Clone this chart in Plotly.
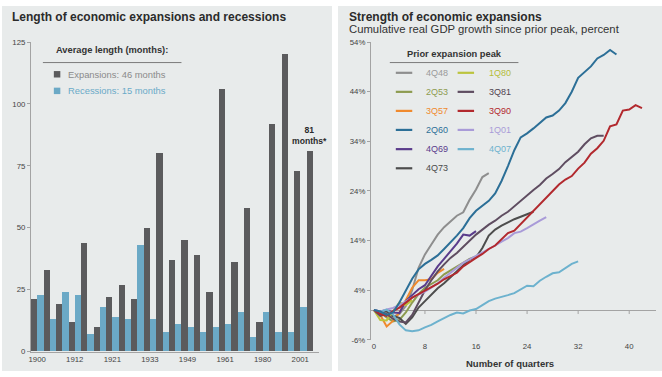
import plotly.graph_objects as go

# ---------------- Left panel: expansion / recession lengths (months) ----------------
cycle_years = ["1900", "1904", "1908", "1912", "1914", "1919", "1921", "1924", "1927",
               "1933", "1938", "1945", "1949", "1954", "1958", "1961", "1970", "1975",
               "1980", "1982", "1991", "2001", "2009"]
expansion_months = [21, 33, 19, 12, 44, 10, 22, 27, 21, 50, 80, 37, 45, 39, 24, 106,
                    36, 58, 12, 92, 120, 73, 81]
recession_months = [23, 13, 24, 23, 7, 18, 14, 13, 43, 13, 8, 11, 10, 8, 10, 11,
                    16, 6, 16, 8, 8, 18, None]
bar_ticks = ["1900", "1912", "1921", "1933", "1949", "1961", "1980", "2001"]
left_ticks = [0, 25, 50, 75, 100, 125]

# ---------------- Right panel: cumulative real GDP growth since prior peak ----------------
peak_names = ["4Q48", "2Q53", "3Q57", "2Q60", "4Q69", "4Q73",
              "1Q80", "3Q81", "3Q90", "1Q01", "4Q07"]
peak_colors = ["#8e8e8e", "#8d9b50", "#f08a2e", "#2c6f97", "#5a3c8b", "#4d4d4d",
               "#bcc43e", "#5f4d61", "#b2292e", "#a99bd8", "#6db2ce"]
label_colors = ["#9a9a9a", "#8d9b50", "#f08a2e", "#2c6f97", "#5a3c8b", "#4a4a4a",
                "#b5bd3a", "#4f4250", "#b2292e", "#a99bd8", "#6db2ce"]

g_4q48 = [0, -0.4, -0.9, -1.4, -0.8, 0.8, 4.0, 8.5, 11.2, 13.2, 15.2, 16.7, 17.8,
          19.0, 19.7, 22.2, 24.3, 26.8, 27.6]
g_2q53 = [0, -0.5, -1.5, -2.3, -2.0, -0.5, 1.5, 3.2, 4.5, 5.2, 6.0, 7.2, 8.0, 8.8,
          9.5, 10.3, 10.8]
g_3q57 = [0, -1.0, -3.3, -2.2, -0.5, 2.0, 4.5, 6.0, 6.0, 6.2, 7.5, 8.3]
g_2q60 = [0, -0.3, -1.0, -0.5, 1.5, 3.8, 6.3, 8.2, 9.3, 10.1, 11.0, 12.3, 13.6, 15.0,
          16.5, 18.5, 20.0, 21.0, 22.0, 23.5, 26.0, 29.0, 32.2, 34.8, 35.6, 36.6,
          37.7, 38.8, 39.2, 40.2, 41.7, 44.0, 46.8, 48.0, 49.1, 50.7, 51.4, 52.4, 51.5]
g_4q69 = [0, -0.3, 0, -0.5, -0.6, 1.8, 3.0, 4.2, 5.0, 7.0, 8.8, 10.3, 11.8, 13.4,
          15.2, 15.0, 15.9]
g_4q73 = [0, -0.5, -0.3, -1.2, -1.6, -2.8, -1.5, 0.5, 1.8, 3.2, 4.4, 5.4, 6.6, 7.8,
          9.0, 10.2, 10.6, 12.5, 15.0, 16.2, 17.0, 17.7, 18.3, 18.8, 19.3, 19.8]
g_1q80 = [0, -2.0, -2.1, -0.3, 1.5, 1.0, 2.0]
g_3q81 = [0, -1.2, -0.8, -1.8, -2.3, -2.5, -1.0, 1.5, 4.0, 6.0, 7.8, 9.2, 10.5, 11.5,
          12.8, 14.0, 15.2, 16.2, 17.2, 18.0, 19.0, 19.8, 20.9, 22.0, 23.2, 24.2,
          25.2, 26.5, 27.4, 28.4, 29.8, 30.8, 31.9, 33.4, 34.6, 35.1, 35.1]
g_3q90 = [0, -0.8, -1.2, -0.2, 0.5, 1.5, 2.5, 3.2, 3.9, 4.6, 5.3, 6.2, 6.8, 7.5, 8.8,
          9.7, 10.5, 11.3, 12.3, 13.0, 14.3, 15.5, 16.0, 17.3, 18.8, 20.0, 21.2,
          22.7, 24.0, 25.3, 26.3, 27.0, 28.5, 29.7, 31.5, 32.6, 34.1, 37.0, 37.4,
          40.2, 40.4, 41.3, 40.7]
g_1q01 = [0, -0.3, 0.1, 0.4, 1.0, 1.8, 2.5, 3.1, 3.7, 4.5, 5.4, 6.5, 7.6, 8.5, 9.5,
          10.2, 10.9, 11.5, 12.2, 13.0, 13.8, 14.5, 15.5, 15.8, 16.5, 17.3, 18.0, 18.7]
g_4q07 = [0, -0.4, 0.1, -0.9, -2.9, -4.1, -4.3, -4.1, -3.5, -3.0, -2.3, -1.6, -1.0,
          -0.5, -0.7, -0.1, 0.2, 1.0, 1.8, 2.3, 2.6, 3.0, 3.4, 4.2, 4.9, 4.8, 5.9,
          6.7, 7.4, 7.6, 8.5, 9.3, 9.8]
growth_series = [g_4q48, g_2q53, g_3q57, g_2q60, g_4q69, g_4q73,
                 g_1q80, g_3q81, g_3q90, g_1q01, g_4q07]
quarter_ticks = [0, 8, 16, 24, 32, 40]
pct_ticks = [-6, 4, 14, 24, 34, 44, 54]

# ---------------- styling ----------------
W, H = 662, 377
FONT = "Liberation Sans, Arial, sans-serif"
PANEL = "#e8ebeb"
AXIS = "#a3a3a3"
EXP_COLOR = "#5b5b5d"
REC_COLOR = "#6ba9c6"


def px(x):
    return x / W


def py(y):
    return 1 - y / H


fig = go.Figure()

fig.add_trace(go.Bar(x=cycle_years, y=expansion_months, name="Expansions",
                     marker=dict(color=EXP_COLOR, line=dict(width=0)),
                     xaxis="x", yaxis="y", showlegend=False))
fig.add_trace(go.Bar(x=cycle_years, y=recession_months, name="Recessions",
                     marker=dict(color=REC_COLOR, line=dict(width=0)),
                     xaxis="x", yaxis="y", showlegend=False))

# draw order: later cycles on top of earlier ones, except the long 2Q60 line
draw_order = [0, 1, 2, 4, 5, 6, 7, 9, 10, 8, 3]
for i in draw_order:
    fig.add_trace(go.Scatter(x=list(range(len(growth_series[i]))), y=growth_series[i],
                             mode="lines", name=peak_names[i],
                             line=dict(color=peak_colors[i], width=2),
                             xaxis="x2", yaxis="y2", showlegend=False))

shapes = []
annotations = []

# panel backgrounds
shapes.append(dict(type="rect", xref="paper", yref="paper", layer="below",
                   x0=px(0), x1=px(331), y0=py(376), y1=py(2),
                   fillcolor=PANEL, line=dict(width=0)))
shapes.append(dict(type="rect", xref="paper", yref="paper", layer="below",
                   x0=px(337), x1=px(662), y0=py(376), y1=py(2),
                   fillcolor=PANEL, line=dict(width=0)))

# titles
annotations.append(dict(text="<b>Length of economic expansions and recessions</b>",
                        x=px(8), y=py(13), xref="paper", yref="paper",
                        xanchor="left", yanchor="middle", showarrow=False,
                        font=dict(family=FONT, size=12, color="#2b2b2b")))
annotations.append(dict(text="<b>Strength of economic expansions</b>",
                        x=px(346), y=py(13), xref="paper", yref="paper",
                        xanchor="left", yanchor="middle", showarrow=False,
                        font=dict(family=FONT, size=12, color="#2b2b2b")))
annotations.append(dict(text="Cumulative real GDP growth since prior peak, percent",
                        x=px(346), y=py(25.5), xref="paper", yref="paper",
                        xanchor="left", yanchor="middle", showarrow=False,
                        font=dict(family=FONT, size=11.3, color="#333333")))

# left legend box
annotations.append(dict(text="<b>Average length (months):</b>",
                        x=px(52), y=py(47.5), xref="paper", yref="paper",
                        xanchor="left", yanchor="middle", showarrow=False,
                        font=dict(family=FONT, size=9.3, color="#333333")))
shapes.append(dict(type="line", xref="paper", yref="paper",
                   x0=px(41), x1=px(180), y0=py(60), y1=py(60),
                   line=dict(color="#7a7a7a", width=1)))
for label, col, txtcol, yy in [("Expansions: 46 months", EXP_COLOR, "#8a8a8a", 72),
                               ("Recessions: 15 months", REC_COLOR, "#6aaac8", 89)]:
    shapes.append(dict(type="rect", xref="paper", yref="paper",
                       x0=px(52), x1=px(58.5), y0=py(yy + 3.3), y1=py(yy - 3.3),
                       fillcolor=col, line=dict(width=0)))
    annotations.append(dict(text=label, x=px(64.5), y=py(yy), xref="paper", yref="paper",
                            xanchor="left", yanchor="middle", showarrow=False,
                            font=dict(family=FONT, size=9.4, color=txtcol)))

# label on the current expansion bar
last_idx = len(expansion_months) - 1
last_val = expansion_months[last_idx]
annotations.append(dict(text="<b>%d<br>months*</b>" % last_val,
                        x=last_idx - 0.25, y=last_val, xref="x", yref="y",
                        xanchor="center", yanchor="bottom", yshift=3,
                        showarrow=False, align="center",
                        font=dict(family=FONT, size=8.6, color="#2b2b2b")))

# right legend
annotations.append(dict(text="<b>Prior expansion peak</b>",
                        x=px(453.5), y=py(51), xref="paper", yref="paper",
                        xanchor="center", yanchor="middle", showarrow=False,
                        font=dict(family=FONT, size=9.3, color="#333333")))
shapes.append(dict(type="line", xref="paper", yref="paper",
                   x0=px(389), x1=px(518), y0=py(60), y1=py(60),
                   line=dict(color="#7a7a7a", width=1)))
row_y = [70.5, 90, 109.5, 129, 148.7, 168.3]
for i, name in enumerate(peak_names):
    col_i, row_i = (0, i) if i < 6 else (1, i - 6)
    lx0 = 395 if col_i == 0 else 457
    tx = 423 if col_i == 0 else 486.5
    yy = row_y[row_i]
    shapes.append(dict(type="line", xref="paper", yref="paper",
                       x0=px(lx0), x1=px(lx0 + 16.5), y0=py(yy), y1=py(yy),
                       line=dict(color=peak_colors[i], width=2.2)))
    annotations.append(dict(text=name, x=px(tx), y=py(yy), xref="paper", yref="paper",
                            xanchor="left", yanchor="middle", showarrow=False,
                            font=dict(family=FONT, size=9, color=label_colors[i])))

# small tick marks hanging from the zero line
for t in quarter_ticks[1:]:
    shapes.append(dict(type="line", xref="x2", yref="y2", x0=t, x1=t,
                       ysizemode="pixel", yanchor=0, y0=0, y1=-4,
                       line=dict(color=AXIS, width=1)))

annotations.append(dict(text="<b>Number of quarters</b>",
                        x=px(510), y=py(368), xref="paper", yref="paper",
                        xanchor="center", yanchor="middle", showarrow=False,
                        font=dict(family=FONT, size=9.5, color="#333333")))

tickfont = dict(family=FONT, size=7.8, color="#444444")

fig.update_layout(
    width=W, height=H,
    margin=dict(l=0, r=0, t=0, b=0),
    paper_bgcolor="white",
    plot_bgcolor="rgba(0,0,0,0)",
    barmode="group", bargap=0, bargroupgap=0,
    showlegend=False,
    font=dict(family=FONT),
    xaxis=dict(domain=[px(29), px(318)], anchor="y", type="category",
               range=[-0.5, len(cycle_years) - 0.5],
               tickmode="array", tickvals=bar_ticks, ticktext=bar_ticks,
               showline=True, linecolor=AXIS, linewidth=1, ticks="",
               showgrid=False, zeroline=False, tickfont=tickfont),
    yaxis=dict(domain=[py(356), py(39)], anchor="x", range=[0, 125],
               tickmode="array", tickvals=left_ticks,
               showline=True, linecolor=AXIS, linewidth=1,
               ticks="outside", ticklen=3, tickcolor=AXIS,
               showgrid=False, zeroline=False, tickfont=tickfont),
    xaxis2=dict(domain=[px(370), px(656)], anchor="y2", range=[-0.47, 44.2],
                tickmode="array", tickvals=quarter_ticks,
                showline=False, ticks="", showgrid=False, zeroline=False,
                tickfont=tickfont),
    yaxis2=dict(domain=[py(344), py(39)], anchor="x2", range=[-6, 54],
                tickmode="array", tickvals=pct_ticks,
                ticktext=["%d%%" % v for v in pct_ticks],
                showline=True, linecolor=AXIS, linewidth=1,
                ticks="outside", ticklen=3, tickcolor=AXIS,
                showgrid=False, zeroline=True, zerolinecolor=AXIS, zerolinewidth=1,
                tickfont=tickfont),
    shapes=shapes,
    annotations=annotations,
)

fig.write_html("out.html")
